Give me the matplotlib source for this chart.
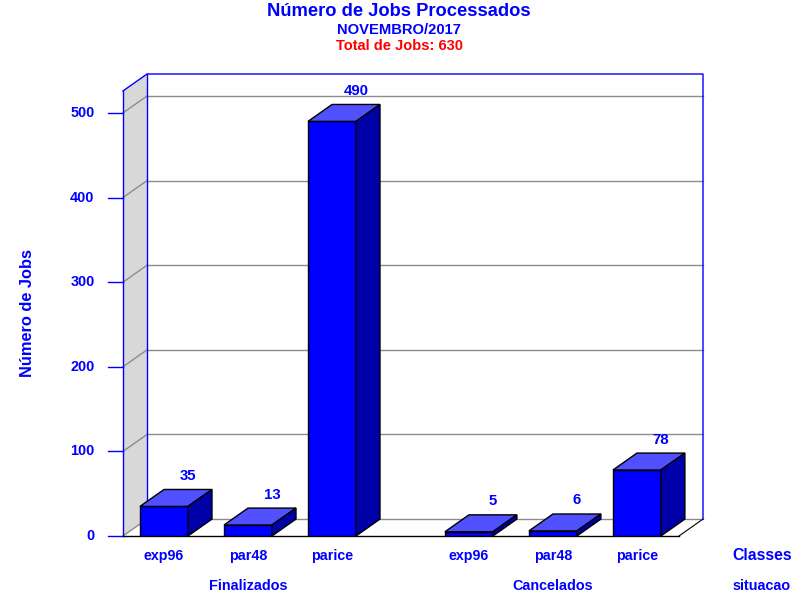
import matplotlib
matplotlib.use('Agg')
import matplotlib.pyplot as plt
from matplotlib.patches import Polygon, Rectangle

plt.rcParams['font.family'] = ['Liberation Sans', 'DejaVu Sans']

# data
classes = ['exp96', 'par48', 'parice']
groups = ['Finalizados', 'Cancelados']
finalizados = [35, 13, 490]
cancelados = [5, 6, 78]
yticks = [0, 100, 200, 300, 400, 500]

BLUE = '#0000ff'
DX = 0.286   # depth offset in slot units
DY = 20.0    # depth offset in value units
BW = 0.571   # bar width
GROUP_STEP = 3.63

fig = plt.figure(figsize=(8, 6), dpi=100)
ax = fig.add_axes([123 / 800, 1 - 536 / 600, 580 / 800, 462 / 600])
x0, x1 = -0.488, 6.417
top = 546.0
ax.set_xlim(x0, x1)
ax.set_ylim(0, top)
ax.axis('off')

# side wall
ax.add_patch(Polygon([(x0, 0), (x0 + DX, DY), (x0 + DX, top), (x0, top - DY)],
                     closed=True, facecolor='#d8d8d8', edgecolor='none', clip_on=False, zorder=0))

# grid lines
for v in yticks:
    ax.plot([x0 + DX, x1], [v + DY, v + DY], color='#8c8c8c', lw=1, zorder=1, clip_on=False)
    ax.plot([x0, x0 + DX], [v, v + DY], color='#8c8c8c', lw=1, zorder=1, clip_on=False)
    ax.plot([x0 - 0.18, x0], [v, v], color=BLUE, lw=1, zorder=3, clip_on=False)
    ax.text(x0 - 0.34, v, str(v), ha='right', va='center', color=BLUE,
            fontsize=10.4, fontweight='bold', clip_on=False)

# frame
ax.plot([x0, x0], [0, top - DY], color=BLUE, lw=1, zorder=3, clip_on=False)
ax.plot([x0, x0 + DX, x1, x1], [top - DY, top, top, DY], color=BLUE, lw=1, zorder=3, clip_on=False)
ax.plot([x0 + DX, x0 + DX], [DY, top], color=BLUE, lw=1, zorder=2, clip_on=False)
ax.plot([x0, x1 - DX], [0, 0], color='black', lw=1, zorder=3, clip_on=False)
ax.plot([x1 - DX, x1], [0, DY], color='black', lw=0.8, zorder=3, clip_on=False)

# bars
for g, (name, vals) in enumerate(zip(groups, [finalizados, cancelados])):
    for i, (c, v) in enumerate(zip(classes, vals)):
        xc = g * GROUP_STEP + i
        left = xc - BW / 2
        ax.add_patch(Rectangle((left, 0), BW, v, facecolor=BLUE, edgecolor='black', lw=1, zorder=5))
        ax.add_patch(Polygon([(left, v), (left + DX, v + DY), (left + BW + DX, v + DY), (left + BW, v)],
                             closed=True, facecolor='#5050ff', edgecolor='black', lw=1, zorder=5))
        ax.add_patch(Polygon([(left + BW, 0), (left + BW + DX, DY), (left + BW + DX, v + DY), (left + BW, v)],
                             closed=True, facecolor='#0000a8', edgecolor='black', lw=1, zorder=5))
        ax.text(xc + DX, v + DY + 16, str(v), ha='center', va='center', color=BLUE,
                fontsize=10.8, fontweight='bold', zorder=6)
        ax.text(xc, -23.6, c, ha='center', va='center', color=BLUE,
                fontsize=10.3, fontweight='bold', clip_on=False)
    ax.text(g * GROUP_STEP + 1, -59, name, ha='center', va='center', color=BLUE,
            fontsize=10.4, fontweight='bold', clip_on=False)

ax.text(7.12, -23.6, 'Classes', ha='center', va='center', color=BLUE,
        fontsize=11.4, fontweight='bold', clip_on=False)
ax.text(7.12, -59, 'situacao', ha='center', va='center', color=BLUE,
        fontsize=10.4, fontweight='bold', clip_on=False)
ax.text(-1.63, 263.6, 'Número de Jobs', rotation=90, ha='center', va='center', color=BLUE,
        fontsize=11.8, fontweight='bold', clip_on=False)

fig.text(0.499, 1 - 11 / 600, 'Número de Jobs Processados', ha='center', va='center',
         color=BLUE, fontsize=13.2, fontweight='bold')
fig.text(0.499, 1 - 30 / 600, 'NOVEMBRO/2017', ha='center', va='center',
         color=BLUE, fontsize=10.6, fontweight='bold')
fig.text(0.5, 1 - 46 / 600, 'Total de Jobs: 630', ha='center', va='center',
         color='red', fontsize=10.5, fontweight='bold')

fig.savefig('out.png', dpi=100)
